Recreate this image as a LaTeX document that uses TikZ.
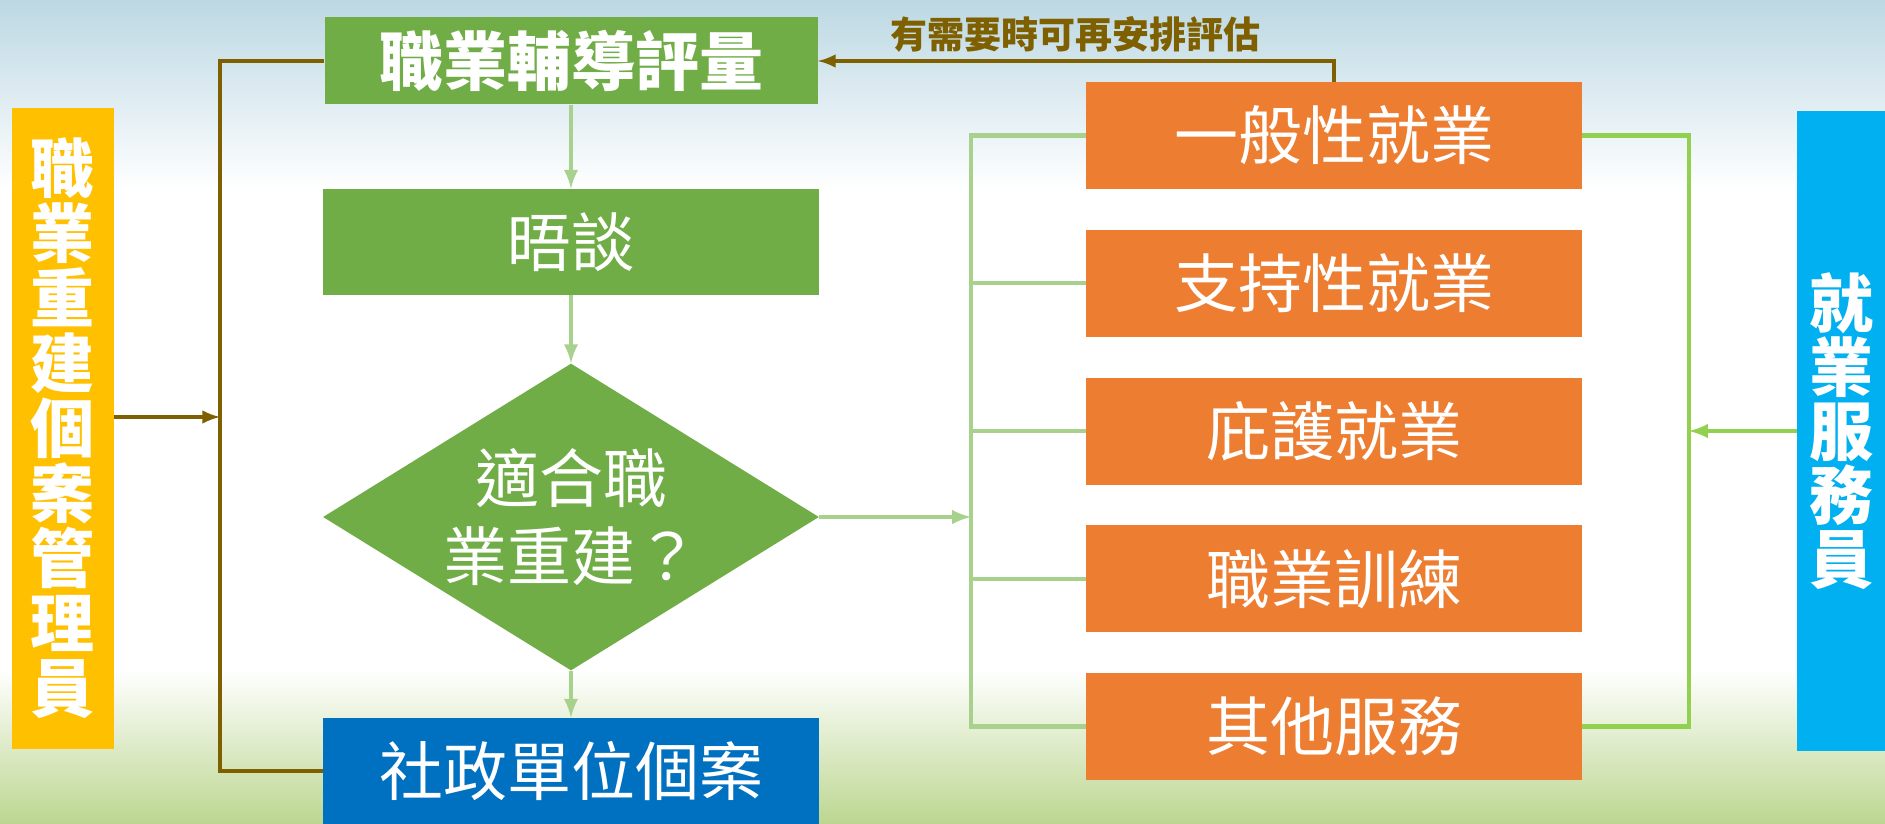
\documentclass[tikz,border=0pt]{standalone}
\usepackage{fontspec}
\setmainfont{Noto Sans CJK TC}
\usetikzlibrary{shapes,arrows,positioning}

\definecolor{mgrYellow}{HTML}{FFC000}
\definecolor{boxGreen}{HTML}{70AD47}
\definecolor{boxOrange}{HTML}{ED7D31}
\definecolor{socialBlue}{HTML}{0070C0}
\definecolor{svcBlue}{HTML}{00B0F0}
\definecolor{lineBrown}{HTML}{7F6000}
\definecolor{lineGreen}{HTML}{A9D18E}
\definecolor{busGreen}{HTML}{92D050}
\definecolor{skyBlue}{HTML}{BCD8E3}
\definecolor{grass}{HTML}{BCD690}

\begin{document}
\begin{tikzpicture}[
     gbox/.style = {rectangle, fill=boxGreen, text=white, minimum width=248pt, inner sep=0pt, font=\fontsize{32}{32}\selectfont},
     obox/.style = {rectangle, fill=boxOrange, text=white, minimum width=248pt, minimum height=53.5pt, inner sep=0pt, font=\fontsize{32}{32}\selectfont, node distance=73.875pt},
     decision/.style = {diamond, fill=boxGreen, text=white, aspect=1.6, inner sep=0pt, minimum width=248pt, minimum height=153.5pt, align=center, font=\fontsize{32}{39}\selectfont},
     side/.style = {rectangle, text=white, inner sep=0pt, align=center, font=\fontsize{32}{32.5}\selectfont\bfseries},
     bline/.style = {draw=lineBrown, line width=2pt},
     barrow/.style = {bline, -latex},
     gline/.style = {draw=lineGreen, line width=2.2pt},
     garrow/.style = {gline, -latex},
     rline/.style = {draw=busGreen, line width=2.2pt},
     rarrow/.style = {rline, -latex}
    ]

    \fill[white] (0,0) rectangle (942.5pt,-412pt);
    \shade[top color=skyBlue, bottom color=white] (0,0) rectangle (942.5pt,-95pt);
    \shade[top color=white, bottom color=grass] (0,-335pt) rectangle (942.5pt,-412pt);
    \useasboundingbox (0,0) rectangle (942.5pt,-412pt);

    \node [gbox, minimum width=246.5pt, minimum height=43.5pt, font=\fontsize{32}{32}\selectfont\bfseries] (assess) at (285.5pt,-30.5pt) {職業輔導評量};
    \node [gbox, below of=assess, node distance=90.5pt, minimum height=53pt] (talk) {晤談};
    \node [decision, below of=talk, node distance=137.5pt] (fit) {適合職\\業重建？};
    \node [gbox, fill=socialBlue, below of=fit, node distance=127pt, minimum height=53pt] (social) {社政單位個案};

    \node [side, fill=mgrYellow, minimum width=51pt, minimum height=320.5pt] (mgr) at (31.5pt,-214.25pt) {職\\業\\重\\建\\個\\案\\管\\理\\員};
    \node [side, fill=svcBlue, minimum width=44pt, minimum height=320pt, font=\fontsize{32}{32}\selectfont\bfseries] (jobsvc) at (920.5pt,-215.5pt) {就\\業\\服\\務\\員};

    \node [obox] (emp1) at (667pt,-67.75pt) {一般性就業};
    \node [obox, below of=emp1] (emp2) {支持性就業};
    \node [obox, below of=emp2] (emp3) {庇護就業};
    \node [obox, below of=emp3] (emp4) {職業訓練};
    \node [obox, below of=emp4] (emp5) {其他服務};

    \coordinate (bus) at (110pt,-208.5pt);
    \coordinate (lbus) at (485.5pt,0);
    \coordinate (rbus) at (844.5pt,0);

    \draw[bline] (assess.west) -| (bus) |- (social.west);
    \draw[barrow] (mgr.east |- bus) -- (bus);
    \draw[barrow] (emp1.north) |- node [pos=0.75, above, text=lineBrown, font=\fontsize{18.5}{18.5}\selectfont\bfseries] (note) {有需要時可再安排評估} (assess.east);

    \draw[garrow] (assess) -- (talk);
    \draw[garrow] (talk) -- (fit);
    \draw[garrow] (fit) -- (social);
    \draw[garrow] (fit.east) -- (fit.east -| lbus);
    \draw[gline] (emp1.west) -| (emp5.west -| lbus) -- (emp5.west);
    \foreach \i in {2,3,4}
        \draw[gline] (emp\i.west) -- (emp\i.west -| lbus);

    \draw[rline] (emp1.east) -| (emp5.east -| rbus) -- (emp5.east);
    \draw[rarrow] (jobsvc.west) -- (jobsvc.west -| rbus);
\end{tikzpicture}
\end{document}
